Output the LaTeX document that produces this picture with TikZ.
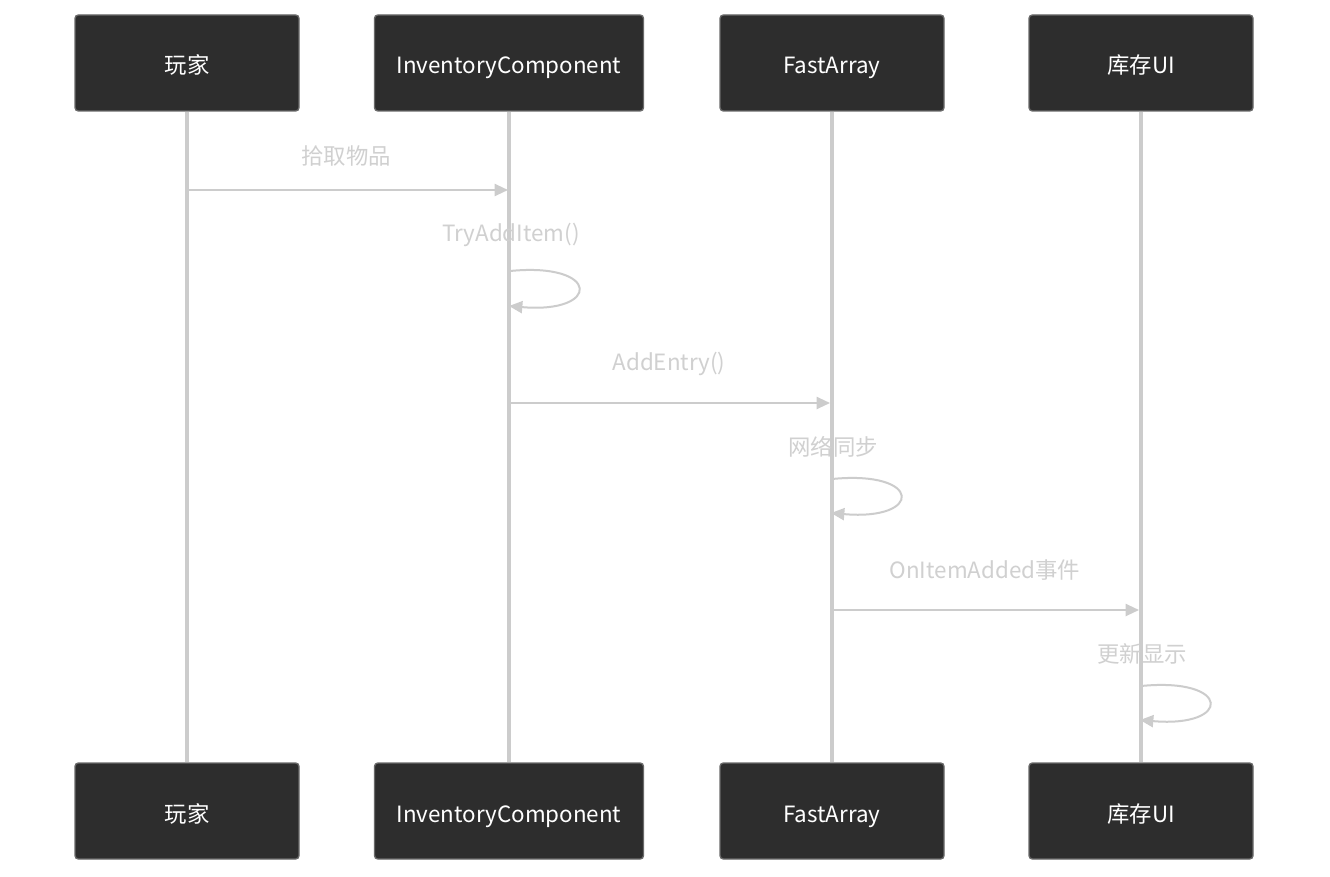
\documentclass[tikz,border=0pt]{standalone}
\usepackage{fontspec}
\setmainfont{Noto Sans CJK SC}
\usetikzlibrary{arrows.meta}
\definecolor{boxfill}{HTML}{2D2D2D}
\definecolor{boxline}{HTML}{6A6A6A}
\definecolor{linegrey}{HTML}{CCCCCC}
\definecolor{labelgrey}{HTML}{D0D0D0}
\begin{document}
\begin{tikzpicture}[x=0.75pt,y=-0.75pt,
  actor/.style={draw=boxline,fill=boxfill,line width=1pt,rounded corners=2.5pt,
    minimum width=168pt,minimum height=72pt,inner sep=0pt,text=white,
    text height=16.5pt,text depth=0pt,
    font=\fontsize{16.8pt}{20pt}\selectfont},
  wideactor/.style={actor,minimum width=201.75pt},
  life/.style={draw=linegrey,line width=2.4pt},
  msg/.style={draw=linegrey,line width=1.5pt,-{Triangle[length=10pt,width=9pt]}},
  msglabel/.style={text=labelgrey,inner sep=0pt,font=\fontsize{16.8pt}{20pt}\selectfont}]
\fill[white] (0,0) rectangle (1330,877);
% top actors
\node[actor] (p1t) at (187,63) {玩家};
\node[wideactor] (p2t) at (509,63) {InventoryComponent};
\node[actor] (p3t) at (832,63) {FastArray};
\node[actor] (p4t) at (1141,63) {库存UI};
% bottom actors
\node[actor] (p1b) at (187,811) {玩家};
\node[wideactor] (p2b) at (509,811) {InventoryComponent};
\node[actor] (p3b) at (832,811) {FastArray};
\node[actor] (p4b) at (1141,811) {库存UI};
% lifelines
\draw[life] (p1t.south) -- (p1b.north);
\draw[life] (p2t.south) -- (p2b.north);
\draw[life] (p3t.south) -- (p3b.north);
\draw[life] (p4t.south) -- (p4b.north);
% message 1
\coordinate (m1a) at (187,190);
\coordinate (m1b) at (508,190);
\draw[msg] (m1a) -- (m1b);
\node[msglabel] (l1) at (346,156) {拾取物品};
% message 2 (self)
\coordinate (m2a) at (510,271);
\coordinate (m2b) at (509,306);
\draw[msg] (m2a) .. controls (601,262) and (601,314) .. (m2b);
\node[msglabel] (l2) at (511,235) {TryAddItem()};
% message 3
\coordinate (m3a) at (509,403);
\coordinate (m3b) at (830,403);
\draw[msg] (m3a) -- (m3b);
\node[msglabel] (l3) at (669,364) {AddEntry()};
% message 4 (self)
\coordinate (m4a) at (832,479);
\coordinate (m4b) at (831,513);
\draw[msg] (m4a) .. controls (923,470) and (923,521) .. (m4b);
\node[msglabel] (l4) at (833,447) {网络同步};
% message 5
\coordinate (m5a) at (831,610);
\coordinate (m5b) at (1139,610);
\draw[msg] (m5a) -- (m5b);
\node[msglabel] (l5) at (985,570) {OnItemAdded事件};
% message 6 (self)
\coordinate (m6a) at (1141,686);
\coordinate (m6b) at (1140,720);
\draw[msg] (m6a) .. controls (1232,677) and (1232,728) .. (m6b);
\node[msglabel] (l6) at (1142,654) {更新显示};
\end{tikzpicture}
\end{document}
